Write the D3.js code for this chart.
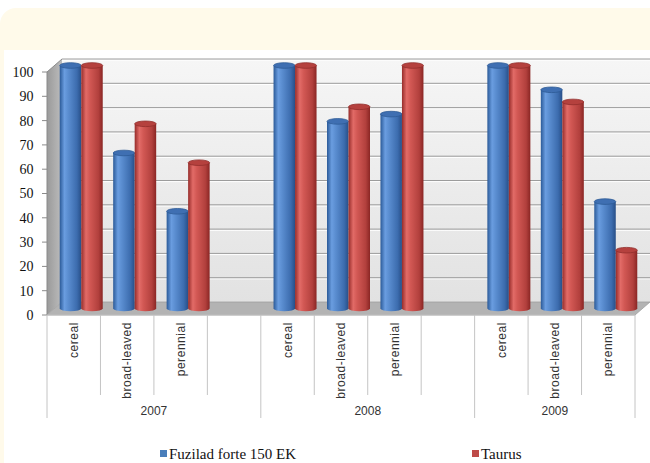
<!DOCTYPE html>
<html>
<head>
<meta charset="utf-8">
<script src="https://cdn.jsdelivr.net/npm/d3@7"></script>
<style>
  html, body { margin: 0; padding: 0; background: #ffffff; }
  svg { display: block; }
</style>
</head>
<body>
<div id="chart"></div>
<script>
// chart values
const years = ["2007", "2008", "2009"];
const weedTypes = ["cereal", "broad-leaved", "perennial"];
const seriesNames = ["Fuzilad forte 150 EK", "Taurus"];
const fuziladValues = [100, 64, 40, 100, 77, 80, 100, 90, 44];
const taurusValues = [100, 76, 60, 100, 83, 100, 100, 85, 24];
const yTicks = [0, 10, 20, 30, 40, 50, 60, 70, 80, 90, 100];

const width = 650, height = 463;
const depthX = 15, depthY = -13;

let svg = d3.select("#chart").append("svg")
    .attr("width", width)
    .attr("height", height);

let defs = svg.append("defs");

// cream panel + white chart area
svg.append("rect")
    .attr("x", 0).attr("y", 8)
    .attr("width", width + 20).attr("height", height + 20)
    .attr("rx", 16)
    .attr("fill", "#fffaea");
svg.append("rect")
    .attr("x", 4).attr("y", 50)
    .attr("width", width).attr("height", height)
    .attr("fill", "#ffffff");

// category slots: three weed types per year, an empty slot between years
let slots = [];
years.forEach(function(yr, i) {
    weedTypes.forEach(function(t) { slots.push({ key: yr + "|" + t, year: yr, type: t }); });
    if (i < years.length - 1) slots.push({ key: yr + "|gap", year: yr, type: "" });
});

let x = d3.scaleBand()
    .domain(slots.map(function(d) { return d.key; }))
    .range([47, 635])
    .padding(0);

let y = d3.scaleLinear()
    .domain([0, 100])
    .range([315, 72]);

let inner = d3.scaleBand()
    .domain(seriesNames)
    .range([0, 43])
    .padding(0);

const x0 = x.range()[0], x1 = x.range()[1];

// gradients
function hGrad(id, stops) {
    let g = defs.append("linearGradient").attr("id", id)
        .attr("x1", "0%").attr("x2", "100%").attr("y1", "0%").attr("y2", "0%");
    stops.forEach(function(s) {
        g.append("stop").attr("offset", s[0]).attr("stop-color", s[1]);
    });
}
function vGrad(id, stops) {
    let g = defs.append("linearGradient").attr("id", id)
        .attr("x1", "0%").attr("x2", "0%").attr("y1", "0%").attr("y2", "100%");
    stops.forEach(function(s) {
        g.append("stop").attr("offset", s[0]).attr("stop-color", s[1]);
    });
}
hGrad("blueBody", [["0%", "#2b5a98"], ["22%", "#6a9de0"], ["40%", "#5a8dd0"], ["80%", "#3c6cae"], ["100%", "#284f88"]]);
hGrad("redBody", [["0%", "#962c2a"], ["22%", "#e26b67"], ["40%", "#d25854"], ["80%", "#b2403d"], ["100%", "#8a2624"]]);
vGrad("wallGrad", [["0%", "#f6f6f6"], ["100%", "#e2e2e2"]]);
hGrad("sideGrad", [["0%", "#9a9a9a"], ["100%", "#bdbdbd"]]);

// back wall
svg.append("polygon")
    .attr("points", [[x0 + depthX, y(100) + depthY], [width + 10, y(100) + depthY],
                     [width + 10, y(0) + depthY], [x0 + depthX, y(0) + depthY]].join(" "))
    .attr("fill", "url(#wallGrad)");

// side wall
svg.append("polygon")
    .attr("points", [[x0, y(100)], [x0 + depthX, y(100) + depthY],
                     [x0 + depthX, y(0) + depthY], [x0, y(0)]].join(" "))
    .attr("fill", "url(#sideGrad)");

// floor
svg.append("polygon")
    .attr("points", [[x0, y(0)], [x0 + depthX, y(0) + depthY],
                     [x1 + depthX, y(0) + depthY], [x1, y(0)]].join(" "))
    .attr("fill", "#b3b3b3")
    .attr("stroke", "#a0a0a0")
    .attr("stroke-width", 0.8);

// gridlines on back wall
let grid = svg.append("g");
grid.selectAll(".hl")
    .data(yTicks.slice(1))
    .enter().append("line")
    .attr("x1", x0 + depthX).attr("x2", width + 10)
    .attr("y1", function(d) { return y(d) + depthY + 1.2; })
    .attr("y2", function(d) { return y(d) + depthY + 1.2; })
    .attr("stroke", "#ffffff").attr("stroke-width", 1);
grid.selectAll(".gl")
    .data(yTicks.slice(1))
    .enter().append("line")
    .attr("x1", x0 + depthX).attr("x2", width + 10)
    .attr("y1", function(d) { return y(d) + depthY; })
    .attr("y2", function(d) { return y(d) + depthY; })
    .attr("stroke", "#9c9c9c").attr("stroke-width", 1);

// y axis: line, ticks, labels
svg.append("line")
    .attr("x1", x0).attr("x2", x0)
    .attr("y1", y(100)).attr("y2", y(0))
    .attr("stroke", "#8a8a8a");
svg.append("line")
    .attr("x1", x0).attr("x2", x0 + depthX)
    .attr("y1", y(100)).attr("y2", y(100) + depthY)
    .attr("stroke", "#8a8a8a");
svg.selectAll(".ytick")
    .data(yTicks)
    .enter().append("line")
    .attr("x1", x0 - 5).attr("x2", x0)
    .attr("y1", function(d) { return y(d); })
    .attr("y2", function(d) { return y(d); })
    .attr("stroke", "#8a8a8a");
svg.selectAll(".ylab")
    .data(yTicks)
    .enter().append("text")
    .attr("x", 33.5)
    .attr("y", function(d) { return y(d); })
    .attr("dy", "0.35em")
    .attr("text-anchor", "end")
    .style("font-family", "'Liberation Serif', 'Times New Roman', serif")
    .style("font-size", "14px")
    .style("fill", "#111")
    .text(function(d) { return d; });

// bars (cylinders), sitting at half depth
let bars = [];
let vi = 0;
slots.forEach(function(s) {
    if (!s.type) return;
    bars.push({ key: s.key, series: seriesNames[0], value: fuziladValues[vi], cls: "blue" });
    bars.push({ key: s.key, series: seriesNames[1], value: taurusValues[vi], cls: "red" });
    vi++;
});

const rx = inner.bandwidth() / 2, ry = 2.8;
const midX = depthX / 2, midY = depthY / 2;
let pairOffset = (x.bandwidth() - (inner.range()[1] - inner.range()[0])) / 2;

let cyl = svg.append("g").selectAll(".cyl")
    .data(bars)
    .enter().append("g")
    .attr("class", "cyl");

function barLeft(d) { return x(d.key) + pairOffset + inner(d.series) + midX; }

cyl.append("path")
    .attr("d", function(d) {
        let l = barLeft(d), r = l + inner.bandwidth();
        let top = y(d.value) + midY, bot = y(0) + midY;
        return "M" + l + "," + top + "L" + l + "," + bot +
            "A" + rx + "," + ry + " 0 0 0 " + r + "," + bot +
            "L" + r + "," + top + "Z";
    })
    .attr("fill", function(d) { return d.cls === "blue" ? "url(#blueBody)" : "url(#redBody)"; });

cyl.append("ellipse")
    .attr("cx", function(d) { return barLeft(d) + rx; })
    .attr("cy", function(d) { return y(d.value) + midY; })
    .attr("rx", rx)
    .attr("ry", ry)
    .attr("fill", function(d) { return d.cls === "blue" ? "#3f6fb2" : "#b5413e"; })
    .attr("stroke", function(d) { return d.cls === "blue" ? "#2d5a96" : "#922f2c"; })
    .attr("stroke-width", 0.8);

// x axis: separators
let axisG = svg.append("g");
let bounds = d3.range(slots.length + 1).map(function(i) {
    let pos = i < slots.length ? x(slots[i].key) : x1;
    let isGroup = i === 0 || i === slots.length || slots[i].year !== slots[i - 1].year;
    return { pos: pos, isGroup: isGroup };
});
axisG.selectAll(".sep")
    .data(bounds)
    .enter().append("line")
    .attr("x1", function(d) { return d.pos; })
    .attr("x2", function(d) { return d.pos; })
    .attr("y1", y(0))
    .attr("y2", function(d) { return d.isGroup ? 418 : 395; })
    .attr("stroke", "#c4c4c4");
axisG.append("line")
    .attr("x1", x0).attr("x2", x1)
    .attr("y1", y(0)).attr("y2", y(0))
    .attr("stroke", "#c4c4c4");

// category labels
axisG.selectAll(".cat")
    .data(slots.filter(function(s) { return s.type; }))
    .enter().append("text")
    .attr("transform", function(d) {
        return "translate(" + (x(d.key) + x.bandwidth() / 2) + ",322) rotate(-90)";
    })
    .attr("dy", "0.35em")
    .attr("text-anchor", "end")
    .style("font-family", "'Liberation Sans', Arial, sans-serif")
    .style("font-size", "12px")
    .style("letter-spacing", "0.55px")
    .style("fill", "#333")
    .text(function(d) { return d.type; });

// year labels
axisG.selectAll(".yr")
    .data(years)
    .enter().append("text")
    .attr("x", function(yr) {
        let ks = slots.filter(function(s) { return s.year === yr && s.type; });
        let first = x(ks[0].key);
        let idx = slots.indexOf(ks[ks.length - 1]);
        let last = idx + 1 < slots.length ? x(slots[idx + 1].key) + (slots[idx + 1].type ? 0 : x.bandwidth()) : x1;
        return (first + last) / 2;
    })
    .attr("y", 411)
    .attr("dy", "0.35em")
    .attr("text-anchor", "middle")
    .style("font-family", "'Liberation Sans', Arial, sans-serif")
    .style("font-size", "12px")
    .style("fill", "#333")
    .text(function(d) { return d; });

// legend
const legendX = [160, 472];
const legendColors = ["#4a7ebb", "#be4b48"];
let legend = svg.append("g").selectAll(".leg")
    .data(seriesNames)
    .enter().append("g");
legend.append("rect")
    .attr("x", function(d, i) { return legendX[i]; })
    .attr("y", 450)
    .attr("width", 7).attr("height", 7)
    .attr("fill", function(d, i) { return legendColors[i]; });
legend.append("text")
    .attr("x", function(d, i) { return legendX[i] + 9; })
    .attr("y", 459)
    .style("font-family", "'Liberation Serif', 'Times New Roman', serif")
    .style("font-size", "15px")
    .style("fill", "#111")
    .text(function(d) { return d; });
</script>
</body>
</html>
